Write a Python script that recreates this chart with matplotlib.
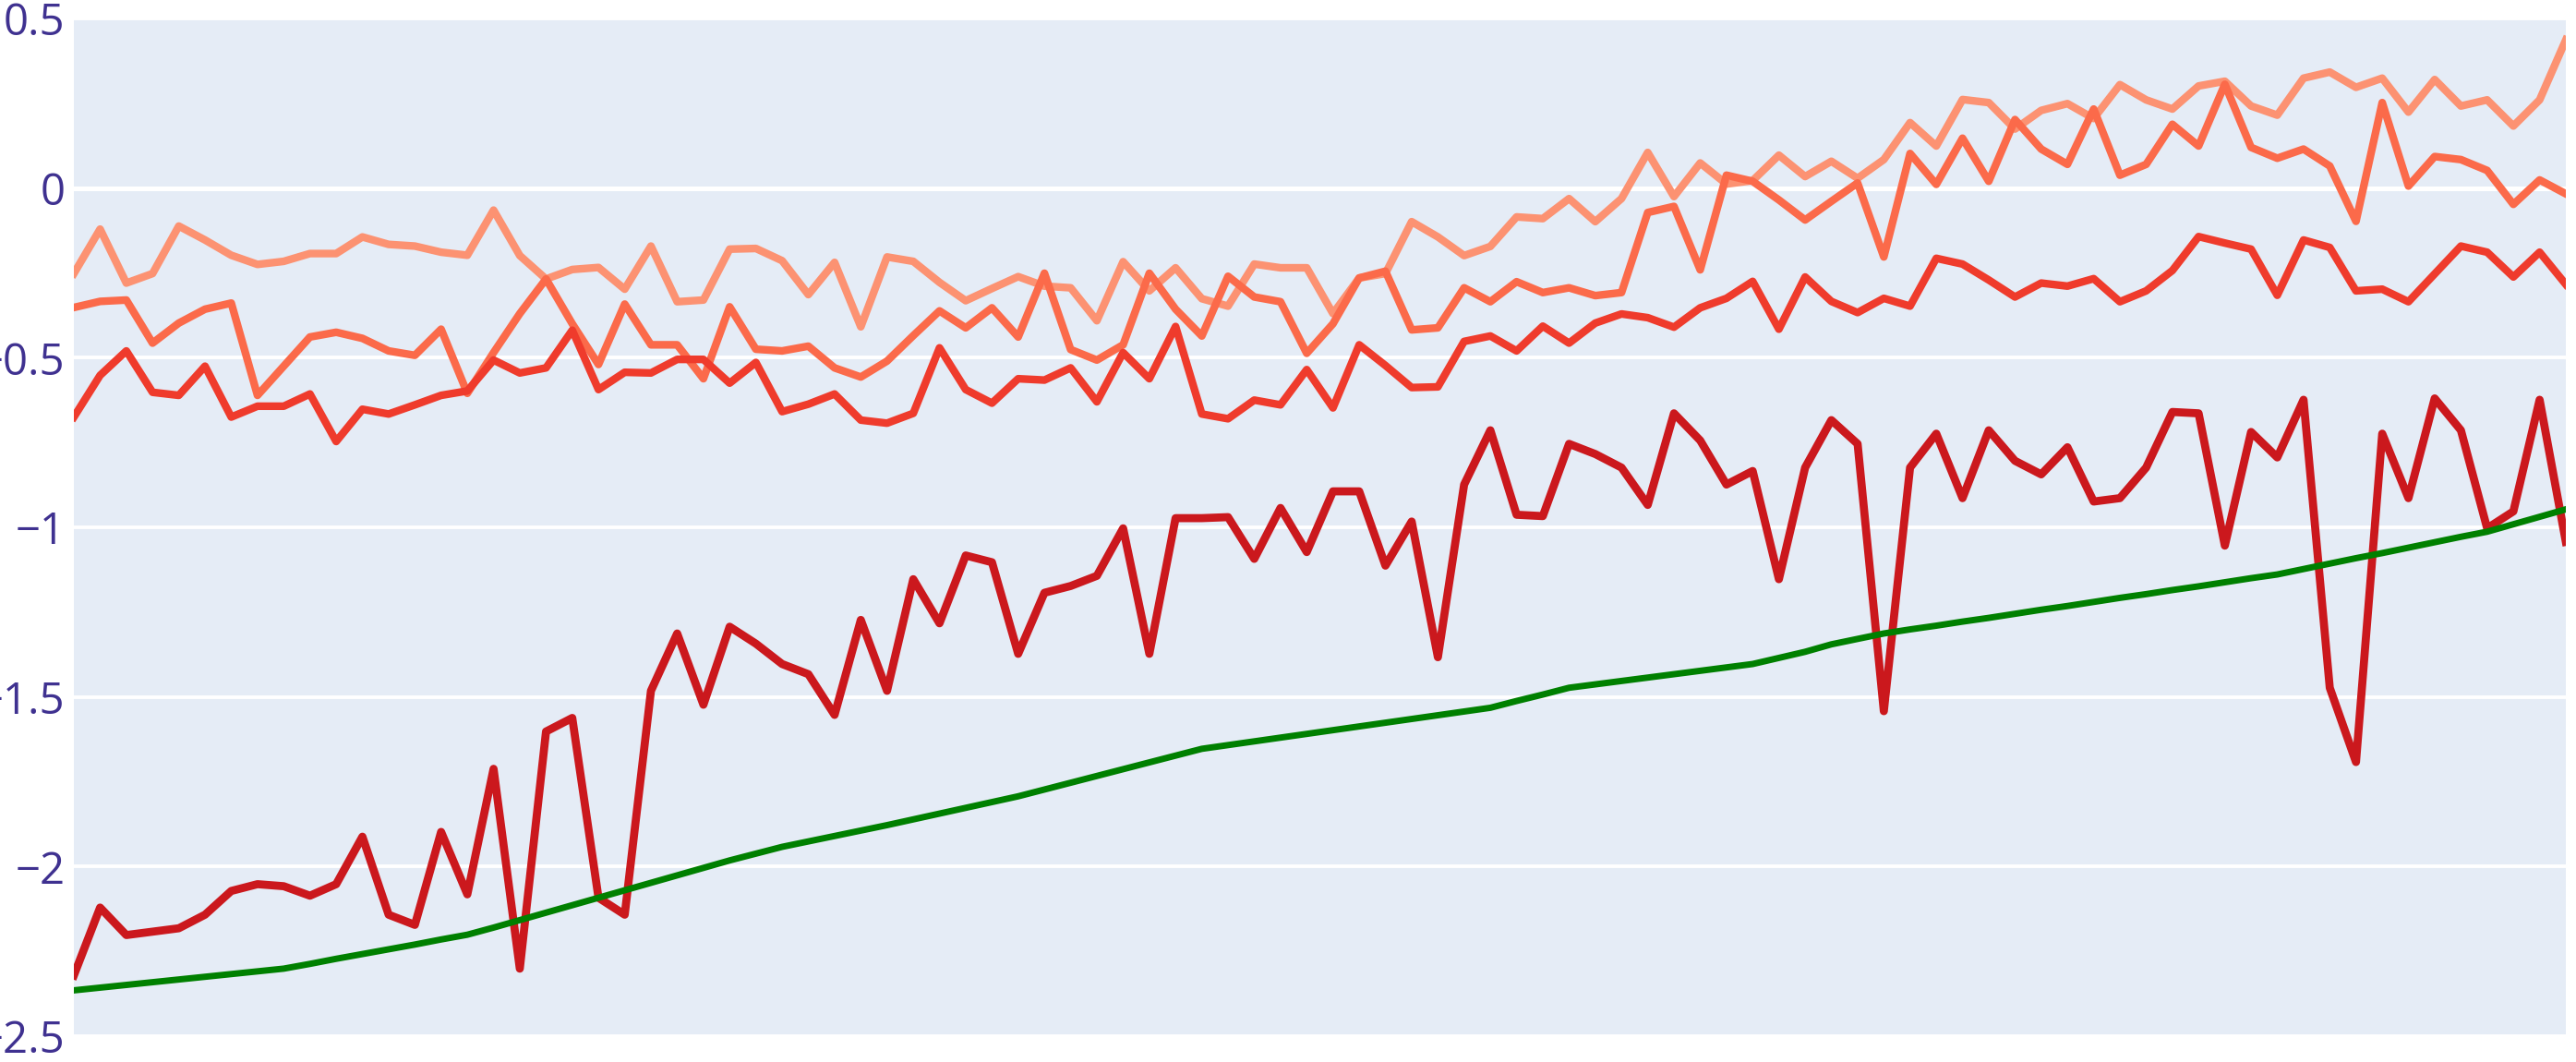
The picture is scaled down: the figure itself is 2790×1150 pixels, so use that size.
import matplotlib
matplotlib.use("Agg")
import matplotlib.pyplot as plt
import numpy as np

# ---- data ----
x_index = list(range(96))

series_light = [
    -0.252, -0.121, -0.280, -0.252, -0.112, -0.153, -0.198, -0.225, -0.216, -0.193,
    -0.193, -0.144, -0.166, -0.171, -0.189, -0.198, -0.065, -0.199, -0.268, -0.240,
    -0.234, -0.298, -0.171, -0.335, -0.330, -0.180, -0.178, -0.214, -0.314, -0.219,
    -0.409, -0.203, -0.216, -0.278, -0.332, -0.296, -0.261, -0.289, -0.294, -0.391,
    -0.217, -0.303, -0.235, -0.326, -0.348, -0.224, -0.235, -0.235, -0.370, -0.265,
    -0.252, -0.099, -0.144, -0.199, -0.172, -0.085, -0.090, -0.031, -0.099, -0.031,
    0.105, -0.025, 0.074, 0.012, 0.022, 0.097, 0.034, 0.079, 0.029, 0.084,
    0.193, 0.124, 0.261, 0.252, 0.174, 0.229, 0.249, 0.205, 0.305, 0.260,
    0.233, 0.301, 0.315, 0.242, 0.215, 0.324, 0.342, 0.297, 0.324, 0.224,
    0.320, 0.242, 0.260, 0.183, 0.260, 0.437,
]

series_coral = [
    -0.352, -0.334, -0.330, -0.457, -0.398, -0.357, -0.339, -0.611, -0.525, -0.439,
    -0.425, -0.443, -0.480, -0.493, -0.416, -0.605, -0.485, -0.370, -0.268, -0.400,
    -0.520, -0.342, -0.462, -0.462, -0.562, -0.350, -0.475, -0.480, -0.466, -0.530,
    -0.557, -0.510, -0.435, -0.362, -0.412, -0.353, -0.439, -0.251, -0.476, -0.507,
    -0.462, -0.251, -0.357, -0.436, -0.260, -0.321, -0.335, -0.487, -0.400, -0.265,
    -0.245, -0.418, -0.412, -0.294, -0.335, -0.276, -0.308, -0.294, -0.317, -0.308,
    -0.072, -0.054, -0.241, 0.038, 0.020, -0.035, -0.094, -0.039, 0.015, -0.203,
    0.102, 0.011, 0.147, 0.020, 0.202, 0.115, 0.070, 0.233, 0.038, 0.070,
    0.188, 0.124, 0.306, 0.120, 0.088, 0.115, 0.065, -0.098, 0.252, 0.006,
    0.093, 0.084, 0.052, -0.048, 0.024, -0.017,
]

series_red = [
    -0.675, -0.552, -0.480, -0.602, -0.611, -0.525, -0.675, -0.643, -0.643, -0.607,
    -0.747, -0.652, -0.666, -0.639, -0.611, -0.598, -0.507, -0.545, -0.530, -0.419,
    -0.594, -0.543, -0.545, -0.505, -0.505, -0.575, -0.514, -0.659, -0.637, -0.607,
    -0.684, -0.693, -0.664, -0.471, -0.594, -0.634, -0.562, -0.566, -0.530, -0.630,
    -0.485, -0.562, -0.408, -0.666, -0.680, -0.625, -0.639, -0.535, -0.648, -0.462,
    -0.523, -0.588, -0.586, -0.452, -0.436, -0.480, -0.407, -0.457, -0.398, -0.371,
    -0.382, -0.410, -0.353, -0.325, -0.275, -0.416, -0.262, -0.334, -0.367, -0.325,
    -0.348, -0.207, -0.224, -0.271, -0.321, -0.280, -0.289, -0.267, -0.335, -0.303,
    -0.243, -0.143, -0.162, -0.180, -0.316, -0.153, -0.175, -0.303, -0.298, -0.335,
    -0.253, -0.171, -0.189, -0.262, -0.189, -0.284,
]

series_darkred = [
    -2.321, -2.121, -2.202, -2.192, -2.182, -2.142, -2.072, -2.052, -2.058, -2.086,
    -2.052, -1.912, -2.142, -2.172, -1.898, -2.082, -1.712, -2.301, -1.602, -1.562,
    -2.092, -2.142, -1.482, -1.313, -1.523, -1.293, -1.343, -1.403, -1.433, -1.553,
    -1.273, -1.482, -1.153, -1.283, -1.083, -1.103, -1.373, -1.193, -1.173, -1.143,
    -1.003, -1.373, -0.973, -0.973, -0.970, -1.093, -0.943, -1.073, -0.894, -0.894,
    -1.113, -0.983, -1.383, -0.874, -0.714, -0.963, -0.967, -0.754, -0.784, -0.824,
    -0.934, -0.664, -0.744, -0.874, -0.834, -1.153, -0.824, -0.684, -0.754, -1.542,
    -0.824, -0.724, -0.914, -0.714, -0.804, -0.844, -0.764, -0.924, -0.914, -0.824,
    -0.660, -0.664, -1.054, -0.719, -0.794, -0.624, -1.473, -1.692, -0.724, -0.914,
    -0.620, -0.714, -1.003, -0.953, -0.624, -1.043,
]

series_green = [
    -2.365, -2.357, -2.349, -2.341, -2.333, -2.325, -2.317, -2.309, -2.301, -2.287,
    -2.272, -2.258, -2.244, -2.230, -2.215, -2.201, -2.180, -2.158, -2.136, -2.114,
    -2.092, -2.070, -2.048, -2.026, -2.004, -1.982, -1.962, -1.942, -1.926, -1.910,
    -1.894, -1.878, -1.861, -1.844, -1.827, -1.810, -1.793, -1.773, -1.753, -1.733,
    -1.713, -1.693, -1.673, -1.653, -1.642, -1.631, -1.620, -1.609, -1.598, -1.587,
    -1.576, -1.565, -1.554, -1.543, -1.532, -1.512, -1.493, -1.473, -1.463, -1.453,
    -1.443, -1.433, -1.423, -1.413, -1.403, -1.385, -1.367, -1.345, -1.329, -1.313,
    -1.301, -1.290, -1.278, -1.267, -1.255, -1.243, -1.232, -1.220, -1.208, -1.197,
    -1.185, -1.174, -1.162, -1.150, -1.139, -1.123, -1.107, -1.091, -1.076, -1.060,
    -1.044, -1.028, -1.013, -0.991, -0.969, -0.947,
]

y_ticks = [0.5, 0, -0.5, -1, -1.5, -2, -2.5]
y_tick_labels = ["0.5", "0", "\u22120.5", "\u22121", "\u22121.5", "\u22122", "\u22122.5"]

# ---- figure ----
W, H = 2790, 1150
fig = plt.figure(figsize=(W / 100, H / 100), dpi=100)
fig.patch.set_facecolor("white")
ax = fig.add_axes([80 / W, 1 - 1122 / H, 2699 / W, 1102 / H])
ax.set_facecolor("#E5ECF6")
for s in ax.spines.values():
    s.set_visible(False)

ax.set_xlim(x_index[0], x_index[-1])
ax.set_ylim(-2.5, 0.5)
ax.set_xticks([])
ax.set_yticks(y_ticks)
ax.set_yticklabels(y_tick_labels, fontfamily="Open Sans")
ax.tick_params(axis="y", length=0, pad=7, labelsize=34, labelcolor="#3f3190")

for yv in y_ticks:
    ax.axhline(yv, color="white", lw=3.6 if yv == 0 else 2.8, zorder=0.5)

ax.plot(x_index, series_light, color="#FC9272", lw=6.0, solid_joinstyle="round", zorder=2)
ax.plot(x_index, series_coral, color="#FB6A4A", lw=6.0, solid_joinstyle="round", zorder=3)
ax.plot(x_index, series_red, color="#EF3B2C", lw=6.0, solid_joinstyle="round", zorder=4)
ax.plot(x_index, series_darkred, color="#CB181D", lw=6.3, solid_joinstyle="round", zorder=5)
ax.plot(x_index, series_green, color="#008000", lw=5.0, solid_joinstyle="round", zorder=6)

fig.savefig("out.png", dpi=100, facecolor="white")
